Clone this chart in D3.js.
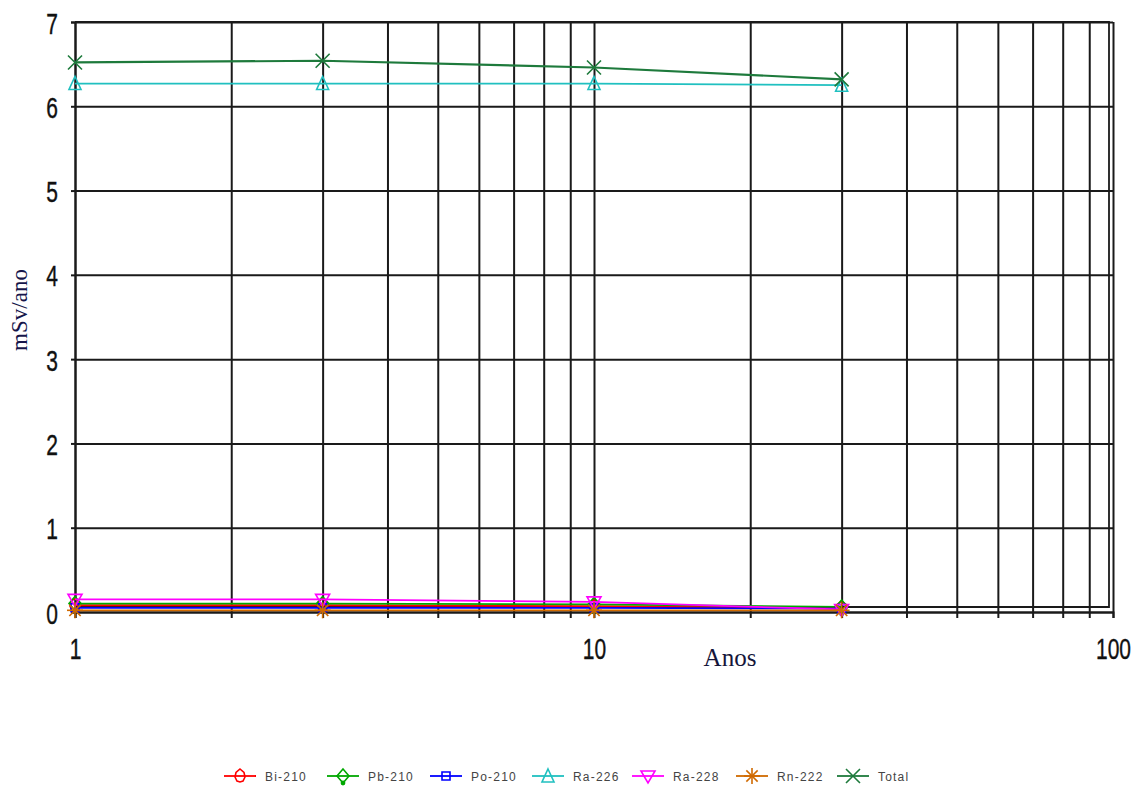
<!DOCTYPE html>
<html><head><meta charset="utf-8">
<script src="https://cdn.jsdelivr.net/npm/d3@7"></script>
<style>body{margin:0;background:#fff}svg{display:block}</style>
</head><body><svg id="c" width="1141" height="794"></svg>
<script>
const categories = [1, 3, 10, 30];
const seriesNames = ["Bi-210", "Pb-210", "Po-210", "Ra-226", "Ra-228", "Rn-222", "Total"];
const bi210 = [0.08, 0.08, 0.07, 0.05];
const pb210 = [0.10, 0.10, 0.09, 0.06];
const po210 = [0.05, 0.05, 0.05, 0.04];
const ra226 = [6.27, 6.27, 6.27, 6.25];
const ra228 = [0.15, 0.15, 0.12, 0.03];
const rn222 = [0.02, 0.02, 0.02, 0.02];
const total = [6.52, 6.54, 6.46, 6.32];
const yTicks = [0, 1, 2, 3, 4, 5, 6, 7];
const xGrid = [1,2,3,4,5,6,7,8,9,10,20,30,40,50,60,70,80,90,100];
const xLabels = [1, 10, 100];

const colors = ["#ff0000", "#00a800", "#0000ff", "#20c0c0", "#ff00ff", "#d06a00", "#1e7a3c"];
const shapes = ["bell", "diamond", "square", "triUp", "triDown", "star", "cross"];
const values = [bi210, pb210, po210, ra226, ra228, rn222, total];

const svg = d3.select("#c");
const x = d3.scaleLog().domain([1, 100]).range([75, 1113]);
const y = d3.scaleLinear().domain([0, 7]).range([612, 22]);

// grid
const grid = svg.append("g");
grid.append("g").attr("transform", `translate(0,${y(0)})`)
  .call(d3.axisBottom(x).tickValues(xGrid).tickSize(-(y(0) - y(7))).tickFormat(""))
  .call(g => { g.select(".domain").remove(); g.selectAll("line").attr("stroke", "#1a1a1a").attr("stroke-width", 2); });
grid.append("g").attr("transform", `translate(${x(1)},0)`)
  .call(d3.axisLeft(y).tickValues(yTicks).tickSize(-(x(100) - x(1))).tickFormat(""))
  .call(g => { g.select(".domain").remove(); g.selectAll("line").attr("stroke", "#1a1a1a").attr("stroke-width", 2); });
// inner frame
svg.append("path").attr("d", `M${x(1)},${y(7)} H1109 V607 H${x(1)}`)
  .attr("fill", "none").attr("stroke", "#1a1a1a").attr("stroke-width", 1.8);

// axes
const yAxis = svg.append("g").attr("transform", `translate(${x(1)},0)`)
  .call(d3.axisLeft(y).tickValues(yTicks).tickSize(4).tickPadding(13).tickFormat(d3.format("d")));
const xAxis = svg.append("g").attr("transform", `translate(0,${y(0)})`)
  .call(d3.axisBottom(x).tickValues(xGrid).tickSize(6).tickFormat(d => xLabels.includes(d) ? String(d) : ""));
[yAxis, xAxis].forEach(a => {
  a.select(".domain").attr("stroke", "#1a1a1a").attr("stroke-width", 2);
  a.selectAll("line").attr("stroke", "#1a1a1a").attr("stroke-width", 2);
  a.selectAll("text").attr("font-family", "Liberation Sans, Arial, sans-serif").attr("font-size", 30)
    .attr("fill", "#111").attr("stroke", "#111").attr("stroke-width", 0.4);
});
yAxis.selectAll("text").each(function() {
  const t = d3.select(this);
  t.attr("x", null).attr("dy", null).attr("text-anchor", "end")
    .attr("transform", "translate(-17,11) scale(0.7,1)");
});
xAxis.selectAll("text").each(function() {
  const t = d3.select(this);
  t.attr("y", null).attr("dy", null).attr("text-anchor", "middle")
    .attr("transform", "translate(0,47) scale(0.7,1)");
});

// axis titles
svg.append("text").attr("x", 730).attr("y", 666).attr("text-anchor", "middle")
  .attr("font-family", "Liberation Serif, Times New Roman, serif").attr("font-size", 25)
  .attr("fill", "#15153a").text("Anos");
svg.append("text").attr("transform", "translate(27,310) rotate(-90)").attr("text-anchor", "middle")
  .attr("font-family", "Liberation Serif, Times New Roman, serif").attr("font-size", 23)
  .attr("fill", "#15154a").text("mSv/ano");

function marker(g, shape, color, s) {
  const k = s / 7;
  const p = g.append("g").attr("fill", "none").attr("stroke", color).attr("stroke-width", 1.6);
  const path = d => p.append("path").attr("d", d);
  if (shape === "bell") path(`M0,${-7*k} L${4*k},${-3.5*k} L${5*k},${1*k} L${3*k},${5*k} L0,${6*k} L${-3*k},${5*k} L${-5*k},${1*k} L${-4*k},${-3.5*k} Z`);
  if (shape === "diamond") { path(`M0,${-7*k} L${6*k},0 L0,${7*k} L${-6*k},0 Z`); p.append("circle").attr("cy", 7*k).attr("r", 1.6*k).attr("fill", color); }
  if (shape === "square") path(`M${-4*k},${-4*k} H${4*k} V${4*k} H${-4*k} Z`);
  if (shape === "triUp") path(`M0,${-7*k} L${6*k},${6*k} L${-6*k},${6*k} Z`);
  if (shape === "triDown") path(`M${-7*k},${-5*k} L${7*k},${-5*k} L0,${7*k} Z`);
  if (shape === "star") { for (let i = 0; i < 8; i++) { const a = i * Math.PI / 4; path(`M0,0 L${8*k*Math.cos(a)},${8*k*Math.sin(a)}`); } }
  if (shape === "cross") { path(`M${-7*k},${-7*k} L${7*k},${7*k} M${7*k},${-7*k} L${-7*k},${7*k}`); }
  return p;
}

// series
const line = d3.line().x((d, i) => x(categories[i])).y(d => y(d));
values.forEach((vals, si) => {
  const g = svg.append("g");
  g.append("path").attr("d", line(vals)).attr("fill", "none").attr("stroke", colors[si])
    .attr("stroke-width", si === 6 ? 2.2 : 1.8);
  vals.forEach((v, i) => {
    marker(g, shapes[si], colors[si], 7).attr("transform", `translate(${x(categories[i])},${y(v)})`);
  });
});

// legend
const legendX = [240, 343, 446, 548, 648, 752, 853];
const lg = svg.append("g");
seriesNames.forEach((n, i) => {
  const cx = legendX[i], cy = 776;
  lg.append("line").attr("x1", cx - 16).attr("x2", cx + 16).attr("y1", cy).attr("y2", cy)
    .attr("stroke", colors[i]).attr("stroke-width", 1.8);
  marker(lg, shapes[i], colors[i], 7).attr("transform", `translate(${cx},${cy})`);
  lg.append("text").attr("x", cx + 25).attr("y", cy + 5)
    .attr("font-family", "Liberation Sans, Arial, sans-serif").attr("font-size", 12)
    .attr("letter-spacing", 1.2).attr("fill", "#444").text(n);
});
</script></body></html>
